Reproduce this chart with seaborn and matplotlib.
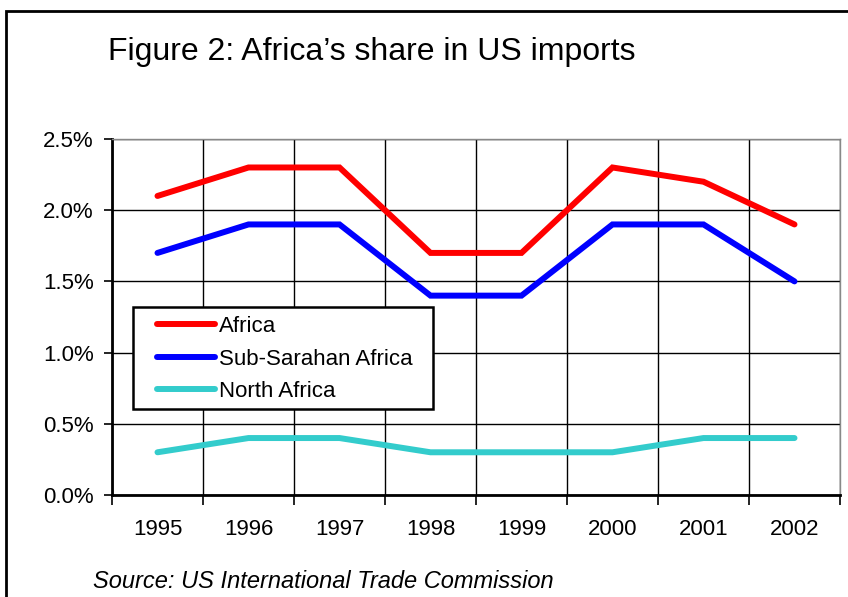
import matplotlib
matplotlib.use("Agg")
import matplotlib.pyplot as plt
import seaborn as sns
import pandas as pd
from matplotlib.patches import Rectangle
from matplotlib.ticker import FixedLocator, FuncFormatter

years = ["1995", "1996", "1997", "1998", "1999", "2000", "2001", "2002"]
africa = [2.1, 2.3, 2.3, 1.7, 1.7, 2.3, 2.2, 1.9]
sub_saharan = [1.7, 1.9, 1.9, 1.4, 1.4, 1.9, 1.9, 1.5]
north_africa = [0.3, 0.4, 0.4, 0.3, 0.3, 0.3, 0.4, 0.4]
series_names = ["Africa", "Sub-Sarahan Africa", "North Africa"]
colors = ["#ff0000", "#0000ff", "#33cccc"]

rows = []
for name, vals in zip(series_names, [africa, sub_saharan, north_africa]):
    for i, v in enumerate(vals):
        rows.append({"idx": i, "value": v, "series": name})
df = pd.DataFrame(rows)

sns.set_style("white")
plt.rcParams['font.family'] = ['Liberation Sans', 'DejaVu Sans']
for k in ["text.color", "axes.labelcolor", "xtick.color", "ytick.color"]:
    plt.rcParams[k] = "black"

fig = plt.figure(figsize=(8.48, 5.97), dpi=100)
W, H = 848, 597
ax = fig.add_axes([112 / W, 1 - 495 / H, (840 - 112) / W, (495 - 139) / H])

sns.lineplot(data=df, x="idx", y="value", hue="series", palette=colors,
             hue_order=series_names, linewidth=4.3, ax=ax,
             solid_capstyle="round", solid_joinstyle="miter", legend=True)

ax.set_xlim(-0.5, 7.5)
ax.set_ylim(0, 2.5)
ax.xaxis.set_major_locator(FixedLocator(range(len(years))))
ax.set_xticklabels(years)
ax.xaxis.set_minor_locator(FixedLocator([k - 0.5 for k in range(9)]))
ax.yaxis.set_major_locator(FixedLocator([0, 0.5, 1.0, 1.5, 2.0, 2.5]))
ax.yaxis.set_major_formatter(FuncFormatter(lambda v, p: f"{v:.1f}%"))
ax.tick_params(axis="x", which="major", length=0, pad=17, labelsize=16)
ax.tick_params(axis="x", which="minor", length=7, width=1.2, direction="out", bottom=True, color="black")
ax.tick_params(axis="y", which="major", length=6, width=1.2, direction="out", left=True, labelsize=16, pad=7, color="black")
ax.grid(False)
ax.xaxis.grid(True, which="minor", color="black", linewidth=1)
ax.yaxis.grid(True, which="major", color="black", linewidth=1)
ax.set_axisbelow(True)
ax.set_xlabel("")
ax.set_ylabel("")

for s in ["left", "bottom"]:
    ax.spines[s].set_color("black")
    ax.spines[s].set_linewidth(2)
for s in ["top", "right"]:
    ax.spines[s].set_color("#888888")
    ax.spines[s].set_linewidth(1)

# legend box
box = Rectangle(((133 - 112) / 728, (495 - 409) / 356), (433 - 133) / 728, (409 - 307) / 356,
                transform=ax.transAxes, facecolor="white", edgecolor="black", linewidth=1.8, zorder=4)
ax.add_patch(box)
leg = ax.legend(loc="upper left", bbox_to_anchor=((157 - 112) / 728, (495 - 316) / 356),
                frameon=False, fontsize=16, handlelength=2.6, handletextpad=0.2, labelspacing=0.52,
                borderpad=0, borderaxespad=0)
for line in leg.get_lines():
    line.set_linewidth(4.3)
    line.set_solid_capstyle("round")
leg.set_zorder(5)

fig.text(108 / W, 1 - 52 / H, "Figure 2: Africa\u2019s share in US imports", fontsize=23,
         ha="left", va="center")
fig.text(93 / W, 1 - 581 / H, "Source: US International Trade Commission", fontsize=17,
         style="italic", ha="left", va="center")

fig.patches.append(Rectangle((6 / W, -0.1), 1.2, 1 - 11 / H + 0.1, transform=fig.transFigure,
                             fill=False, edgecolor="black", linewidth=2, figure=fig))

fig.savefig("out.png", dpi=100)
